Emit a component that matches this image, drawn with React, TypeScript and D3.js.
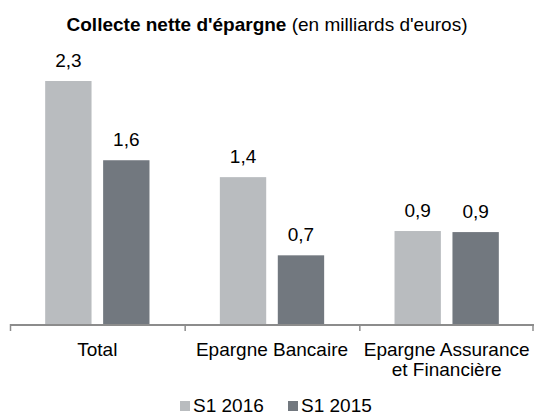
import { useEffect, useRef } from 'react';
import * as d3 from 'd3';

const categories = ['Total', 'Epargne Bancaire', 'Epargne Assurance|et Financière'];
const seriesNames = ['S1 2016', 'S1 2015'];
const s2016 = [2.3, 1.39, 0.88];
const s2015 = [1.55, 0.65, 0.87];
const colors = ['#b9bcbf', '#72787f'];

const width = 535;
const height = 417;

const App = () => {
  const d3Container = useRef<SVGSVGElement | null>(null);
  const margin = { left: 10, right: 1, top: 81, bottom: 93 };

  useEffect(() => {
    if (!d3Container.current) return;
    const svg = d3.select(d3Container.current);
    svg.selectAll('*').remove();
    svg.attr('width', width).attr('height', height);

    const font = 'Liberation Sans, Arial, sans-serif';
    const fs = '19px';
    const baseY = height - margin.bottom;

    const x0 = d3
      .scaleBand()
      .domain(categories)
      .range([margin.left, width - margin.right])
      .padding(0);
    const x1 = d3
      .scaleBand()
      .domain(seriesNames)
      .range([0, x0.bandwidth()])
      .paddingInner(0.2)
      .paddingOuter(0.607);
    const y = d3
      .scaleLinear()
      .domain([0, d3.max(s2016) as number])
      .range([baseY, margin.top]);

    const rows = categories.flatMap((c, i) => [
      { cat: c, series: seriesNames[0], value: s2016[i], color: colors[0] },
      { cat: c, series: seriesNames[1], value: s2015[i], color: colors[1] },
    ]);

    svg
      .selectAll('.bar')
      .data(rows)
      .enter()
      .append('rect')
      .attr('class', 'bar')
      .attr('x', (d) => (x0(d.cat) as number) + (x1(d.series) as number))
      .attr('y', (d) => y(d.value))
      .attr('width', x1.bandwidth())
      .attr('height', (d) => baseY - y(d.value))
      .attr('fill', (d) => d.color);

    svg
      .selectAll('.val')
      .data(rows)
      .enter()
      .append('text')
      .attr('class', 'val')
      .attr('x', (d) => (x0(d.cat) as number) + (x1(d.series) as number) + x1.bandwidth() / 2)
      .attr('y', (d) => y(d.value) - 14)
      .attr('text-anchor', 'middle')
      .style('font-family', font)
      .style('font-size', fs)
      .attr('fill', '#000')
      .text((d) => (Math.round(d.value * 10) / 10).toFixed(1).replace('.', ','));

    // axis line with group separators
    const axis = svg.append('g').attr('stroke', '#8c8c8c');
    axis
      .append('line')
      .attr('x1', margin.left)
      .attr('x2', width - margin.right)
      .attr('y1', baseY + 1)
      .attr('y2', baseY + 1)
      .attr('stroke-width', 2);
    const edges = categories.map((c) => x0(c) as number).concat([width - margin.right]);
    axis
      .selectAll('.tick')
      .data(edges)
      .enter()
      .append('line')
      .attr('x1', (d, i) => (i === edges.length - 1 ? d - 1 : d + 0.5))
      .attr('x2', (d, i) => (i === edges.length - 1 ? d - 1 : d + 0.5))
      .attr('y1', baseY)
      .attr('y2', baseY + 7)
      .attr('stroke-width', 1.5);

    categories.forEach((c) => {
      const lines = c.split('|');
      const cx = (x0(c) as number) + x0.bandwidth() / 2;
      const t = svg
        .append('text')
        .attr('x', cx)
        .attr('y', baseY + 32)
        .attr('text-anchor', 'middle')
        .style('font-family', font)
        .style('font-size', fs)
        .attr('fill', '#000');
      lines.forEach((l, i) => {
        t.append('tspan')
          .attr('x', cx)
          .attr('dy', i === 0 ? 0 : 20)
          .text(l);
      });
    });

    const title = svg
      .append('text')
      .attr('x', 267)
      .attr('y', 31)
      .attr('text-anchor', 'middle')
      .style('font-family', font)
      .style('font-size', fs)
      .attr('fill', '#000');
    title.append('tspan').style('font-weight', 'bold').text("Collecte nette d'épargne");
    title.append('tspan').text(" (en milliards d'euros)");

    const legendX = [180, 288];
    const legend = svg
      .selectAll('.legend')
      .data(seriesNames)
      .enter()
      .append('g')
      .attr('class', 'legend')
      .attr('transform', (d, i) => `translate(${legendX[i]}, 401)`);
    legend
      .append('rect')
      .attr('width', 10)
      .attr('height', 10)
      .attr('fill', (d, i) => colors[i]);
    legend
      .append('text')
      .attr('x', 13)
      .attr('y', 11)
      .style('font-family', font)
      .style('font-size', fs)
      .attr('fill', '#000')
      .text((d) => d);
  }, []);

  return (
    <div>
      <svg ref={d3Container} style={{ position: 'absolute', left: 0, top: 0 }} />
    </div>
  );
};
export default App;
